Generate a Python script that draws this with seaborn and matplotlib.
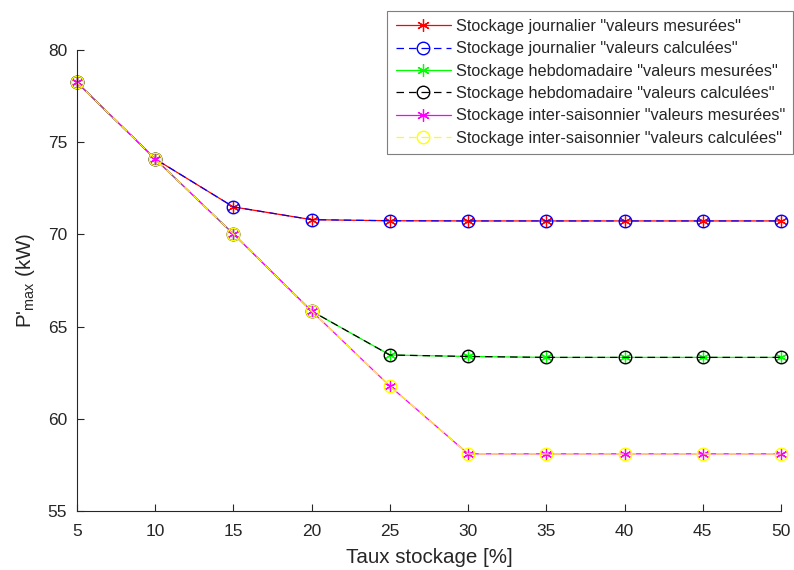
import matplotlib
matplotlib.use("Agg")
import matplotlib.pyplot as plt
import pandas as pd
import seaborn as sns

# Taux de stockage (%) et puissance max (kW)
taux = [5, 10, 15, 20, 25, 30, 35, 40, 45, 50]
journalier = [78.24, 74.09, 71.49, 70.80, 70.74, 70.73, 70.73, 70.73, 70.73, 70.73]
hebdomadaire = [78.24, 74.09, 70.02, 65.84, 63.46, 63.38, 63.33, 63.33, 63.33, 63.33]
inter_saison = [78.24, 74.09, 70.02, 65.84, 61.77, 58.10, 58.10, 58.10, 58.10, 58.10]

labels = [
    'Stockage journalier "valeurs mesurées"',
    'Stockage journalier "valeurs calculées"',
    'Stockage hebdomadaire "valeurs mesurées"',
    'Stockage hebdomadaire "valeurs calculées"',
    'Stockage inter-saisonnier "valeurs mesurées"',
    'Stockage inter-saisonnier "valeurs calculées"',
]
couleurs = ["#ff0000", "#0000ff", "#00ff00", "#000000", "#ff00ff", "#ffff00"]

sns.set_style("white")
plt.rcParams["font.family"] = ["Liberation Sans", "DejaVu Sans"]

fig = plt.figure(figsize=(7.94, 5.70), dpi=100)
ax = fig.add_axes([77 / 794, 1 - 511 / 570, 704 / 794, 461 / 570])

series = [journalier, journalier, hebdomadaire, hebdomadaire, inter_saison, inter_saison]
for i, (vals, lab, col) in enumerate(zip(series, labels, couleurs)):
    df = pd.DataFrame({"taux": taux, "p": vals})
    if i % 2 == 0:
        # valeurs mesurees : trait plein, asterisque
        sns.lineplot(data=df, x="taux", y="p", ax=ax, color=col, linestyle="-",
                     linewidth=0.9, marker=(6, 2, 0), markersize=9,
                     markeredgecolor=col, markeredgewidth=0.9, label=lab, clip_on=False)
    else:
        # valeurs calculees : tirets, cercle vide
        sns.lineplot(data=df, x="taux", y="p", ax=ax, color=col, linestyle=(0, (6, 4)),
                     linewidth=0.9, marker="o", markersize=9, markerfacecolor="none",
                     markeredgecolor=col, markeredgewidth=1.0, label=lab, clip_on=False)

ax.set_xlim(5, 50)
ax.set_ylim(55, 80)
ax.set_xticks(taux)
ax.set_yticks([55, 60, 65, 70, 75, 80])
ax.set_xlabel("Taux stockage [%]", fontsize=14.8, color="#262626", labelpad=7)
ax.set_ylabel(r"P'$_\mathregular{max}$ (kW)", fontsize=14.8, color="#262626", labelpad=8)
ax.tick_params(direction="in", length=5, width=0.8, labelsize=12.5,
               colors="#262626", left=True, bottom=True)
ax.tick_params(axis="x", pad=9)
ax.tick_params(axis="y", pad=7)
for s in ["top", "right"]:
    ax.spines[s].set_visible(False)
for s in ["left", "bottom"]:
    ax.spines[s].set_color("#262626")
    ax.spines[s].set_linewidth(0.8)

leg = ax.legend(loc="upper right", bbox_to_anchor=(793 / 794, 1 - 11 / 570),
                bbox_transform=fig.transFigure, fancybox=False, framealpha=1,
                edgecolor="#7f7f7f", fontsize=11.7, handlelength=3.4,
                borderaxespad=0, labelspacing=0.45, handletextpad=0.3,
                borderpad=0.5)
leg.get_frame().set_linewidth(0.8)

fig.savefig("out.png", dpi=100)
